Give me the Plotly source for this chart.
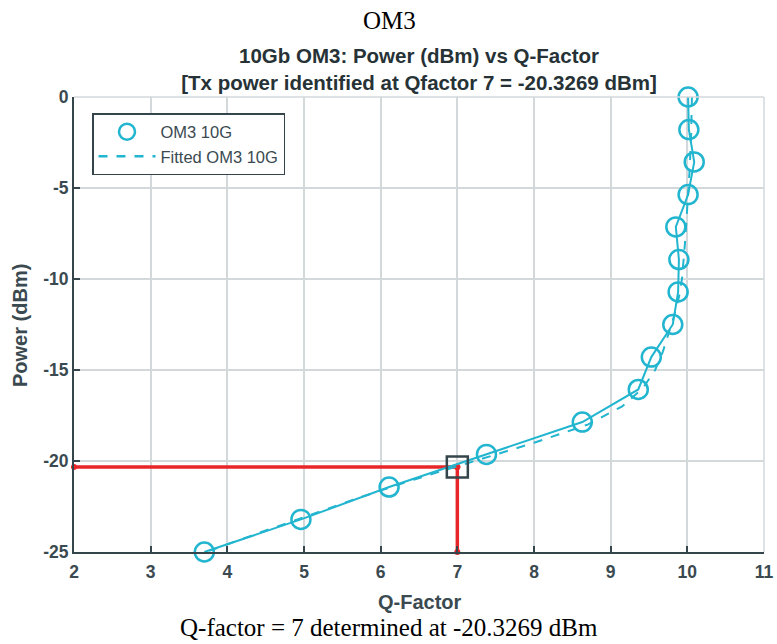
import plotly.graph_objects as go

# Measured data (OM3 10G)
q_factor = [10.01, 10.02, 10.09, 10.01, 9.85, 9.89, 9.88, 9.81, 9.53, 9.36, 8.63, 7.38, 6.11, 4.96, 3.70]
power = [0.0, -1.79, -3.57, -5.36, -7.14, -8.93, -10.71, -12.5, -14.29, -16.07, -17.86, -19.64, -21.43, -23.21, -25.0]

# Fitted curve
fit_q = [10.06, 10.05, 10.03, 10.0, 9.97, 9.93, 9.89, 9.83, 9.76, 9.68, 9.58, 9.42, 9.15, 8.70, 8.0, 7.22, 6.45, 5.73, 5.05, 4.38, 3.72]
fit_power = [0, -2, -4, -6, -8, -10, -11, -12, -13, -14, -15, -16, -17, -18, -19, -20, -21, -22, -23, -24, -25]

# Identified point
q_target = 7
p_target = -20.3269

x_ticks = [2, 3, 4, 5, 6, 7, 8, 9, 10, 11]
x_tick_labels = ["2", "3", "4", "5", "6", "7", "8", "9", "10", "11"]
y_ticks = [0, -5, -10, -15, -20, -25]
y_tick_labels = ["0", "-5", "-10", "-15", "-20", "-25"]

CYAN = "#22b5cf"
RED = "#e8262a"
AX = "#34454b"
TXT = "#3a4a50"
GRID = "#d3d8db"
SANS = "Liberation Sans, Arial, sans-serif"
SERIF = "Liberation Serif, Times New Roman, serif"

W, H = 777, 644
L, R, T, B = 74, 13, 97, 92
PW, PH = W - L - R, H - T - B


def px(xp):
    return (xp - L) / PW


def py(yp):
    return (H - B - yp) / PH


fig = go.Figure()

# Red guide lines
fig.add_trace(go.Scatter(x=[x_ticks[0], q_target], y=[p_target, p_target], mode="lines+markers",
                         line=dict(color=RED, width=3.5), marker=dict(size=6, color=RED),
                         showlegend=False, hoverinfo="skip", cliponaxis=False))
fig.add_trace(go.Scatter(x=[q_target, q_target], y=[p_target, y_ticks[-1]], mode="lines+markers",
                         line=dict(color=RED, width=3.5), marker=dict(size=6, color=RED),
                         showlegend=False, hoverinfo="skip", cliponaxis=False))

# Measured (solid line)
fig.add_trace(go.Scatter(x=q_factor, y=power, mode="lines", line=dict(color=CYAN, width=2),
                         showlegend=False))
# Fitted dashed
fig.add_trace(go.Scatter(x=fit_q, y=fit_power, mode="lines", line=dict(color=CYAN, width=2, dash="dash"),
                         showlegend=False))
# Markers
fig.add_trace(go.Scatter(x=q_factor, y=power, mode="markers", name="OM3 10G", cliponaxis=False,
                         marker=dict(symbol="circle-open", size=19, color=CYAN, line=dict(width=2.5, color=CYAN))))
# Legend entry for fitted
fig.add_trace(go.Scatter(x=[None], y=[None], mode="lines", name="Fitted OM3 10G",
                         line=dict(color=CYAN, width=2.5, dash="dash")))

# Square marker
fig.add_trace(go.Scatter(x=[q_target], y=[p_target], mode="markers", showlegend=False,
                         marker=dict(symbol="square-open", size=21, color=AX, line=dict(width=2.5, color=AX))))

fig.update_layout(
    width=W, height=H,
    margin=dict(l=L, r=R, t=T, b=B, autoexpand=False),
    paper_bgcolor="white", plot_bgcolor="white",
    font=dict(family=SANS, color=TXT, size=15),
    title=dict(text="<b>10Gb OM3: Power (dBm) vs Q-Factor<br>[Tx power identified at Qfactor 7 = -20.3269 dBm]</b>",
               x=0.5, xref="paper", xanchor="center", y=1 - 63 / H, yref="container", yanchor="middle",
               font=dict(family=SANS, size=20.5, color="#263236")),
    legend=dict(x=px(92), y=py(113), xanchor="left", yanchor="top", bgcolor="white",
                bordercolor=AX, borderwidth=1.5, font=dict(size=16.5, color=TXT),
                tracegroupgap=0, itemwidth=57),
    xaxis=dict(range=[2, 11], tickvals=x_ticks, ticktext=["<b>%s</b>" % t for t in x_tick_labels],
               showgrid=True, gridcolor=GRID, gridwidth=1.5,
               showline=True, linecolor=AX, linewidth=2, ticks="inside", ticklen=6, tickcolor=AX,
               tickwidth=1.5, zeroline=False, automargin=False, ticklabelstandoff=3,
               tickfont=dict(size=17.5, color=TXT)),
    yaxis=dict(range=[-25, 0], tickvals=y_ticks, ticktext=["<b>%s</b>" % t for t in y_tick_labels],
               showgrid=True, gridcolor=GRID, gridwidth=1.5,
               showline=True, linecolor=AX, linewidth=2, ticks="inside", ticklen=6, tickcolor=AX,
               tickwidth=1.5, zeroline=False, automargin=False,
               tickfont=dict(size=17.5, color=TXT)),
    annotations=[
        dict(text="OM3", x=px(389), y=py(21), xref="paper", yref="paper", showarrow=False,
             font=dict(family=SERIF, size=25, color="black"), xanchor="center", yanchor="middle"),
        dict(text="Q-factor = 7 determined at -20.3269 dBm", x=px(389), y=py(627), xref="paper", yref="paper",
             showarrow=False, font=dict(family=SERIF, size=25, color="black"), xanchor="center", yanchor="middle"),
        dict(text="<b>Q-Factor</b>", x=px(420), y=py(602), xref="paper", yref="paper", showarrow=False,
             font=dict(family=SANS, size=20, color=TXT), xanchor="center", yanchor="middle"),
        dict(text="<b>Power (dBm)</b>", x=px(20), y=py(325), xref="paper", yref="paper", showarrow=False,
             textangle=-90, font=dict(family=SANS, size=20, color=TXT), xanchor="center", yanchor="middle"),
    ],
)

# Top/right grey borders
fig.add_shape(type="line", xref="paper", yref="paper", x0=0, x1=1, y0=1, y1=1, line=dict(color=GRID, width=1.5))
fig.add_shape(type="line", xref="paper", yref="paper", x0=1, x1=1, y0=0, y1=1, line=dict(color=GRID, width=1.5))

fig.write_html("out.html")
